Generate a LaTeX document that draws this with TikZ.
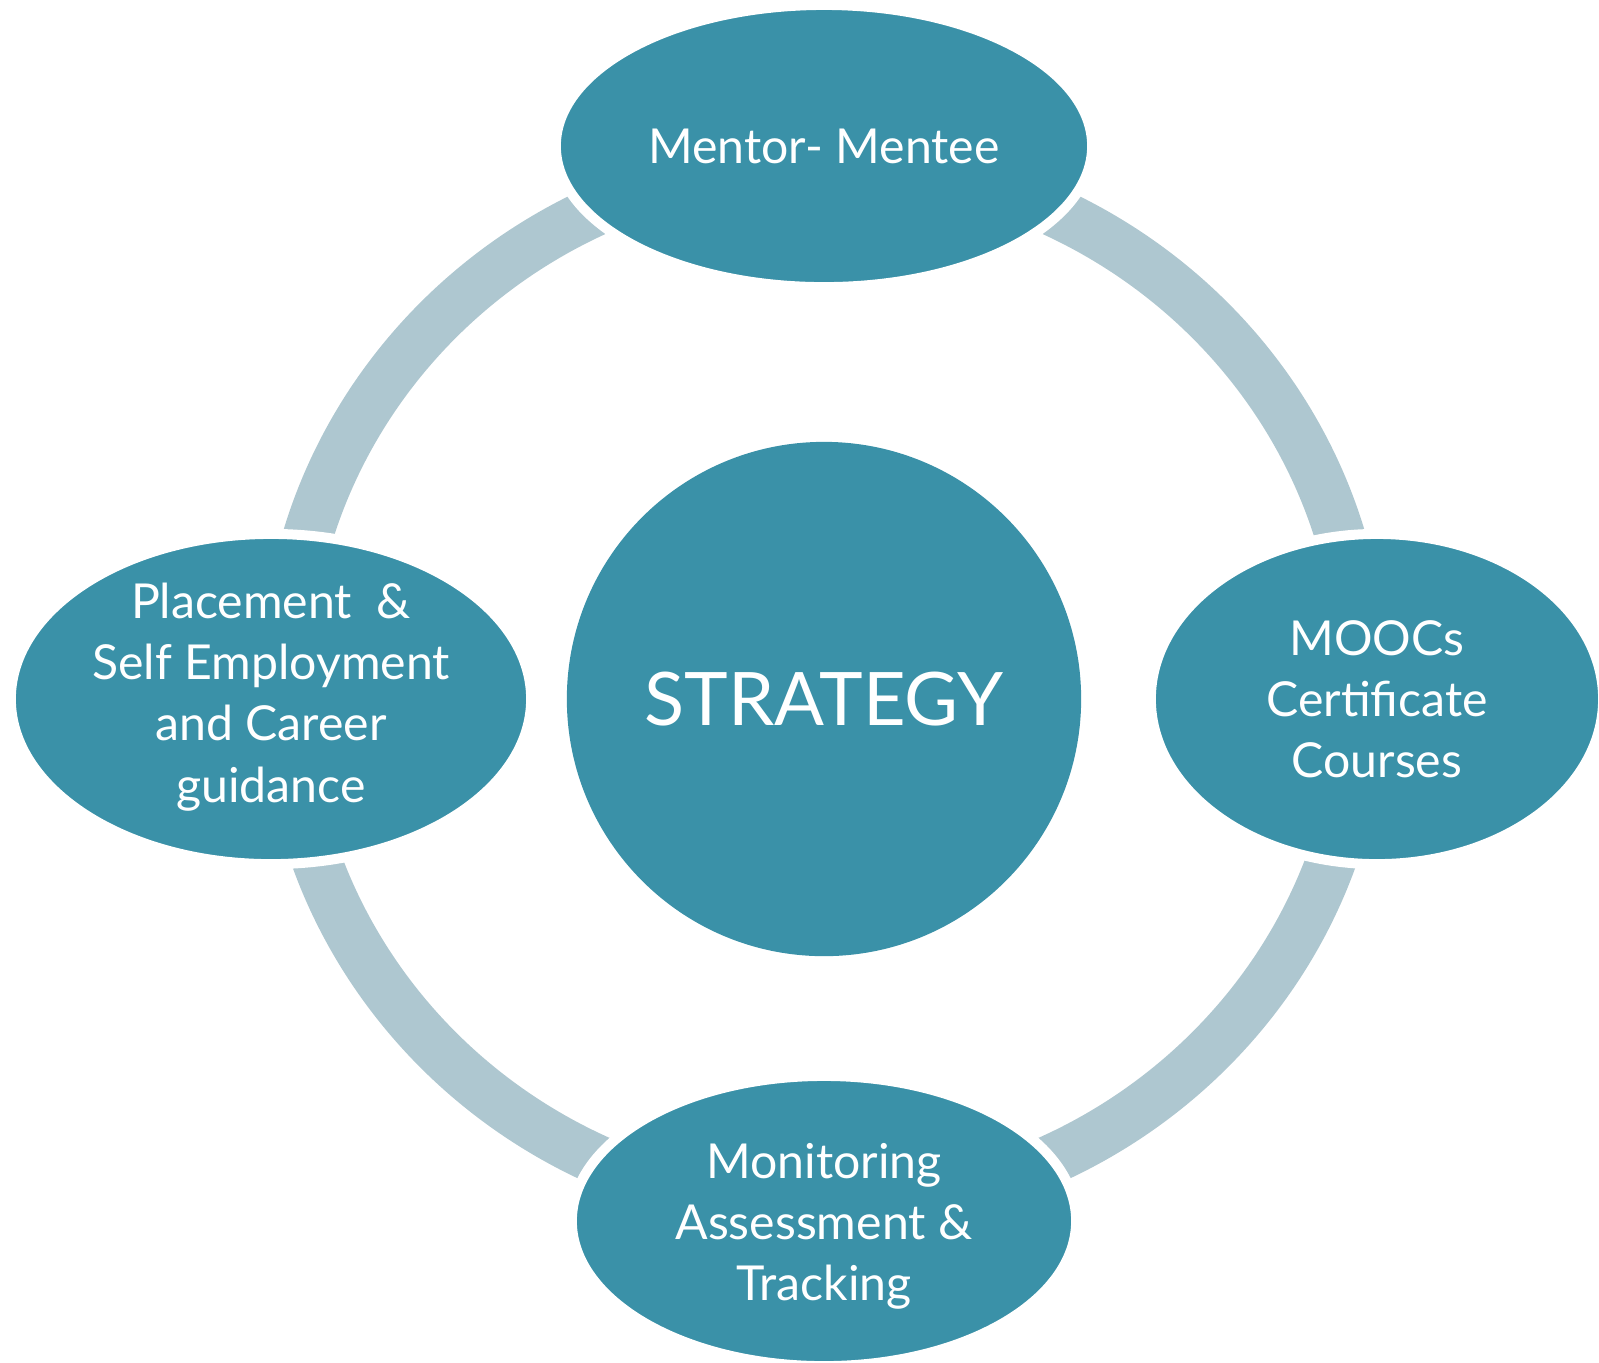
\documentclass[tikz,border=0pt]{standalone}
\usepackage{fontspec}
\setmainfont{Lato}
\usetikzlibrary{shapes.geometric}
\definecolor{tealfill}{RGB}{58,145,168}
\definecolor{ringblue}{RGB}{174,199,208}

\begin{document}
\begin{tikzpicture}[x=0.01cm,y=-0.01cm]
    \tikzstyle{blob}=[ellipse, fill=tealfill, draw=white, line width=0.1cm,
                            inner sep=0pt]
    \tikzstyle{lbl}=[text=white, align=center, font=\fontsize{13.7}{17.4}\selectfont]
    \useasboundingbox (0,0) rectangle (1599,1362);

    \coordinate (ringc) at (824,685);
    \draw[ringblue, line width=0.5cm] (ringc) ellipse [x radius=5.38cm, y radius=5.23cm];

    \node[blob, minimum width=5.36cm, minimum height=2.82cm,
          label={[lbl]center:Mentor- Mentee}] (mentor) at (824,146) {};
    \node[blob, minimum width=4.52cm, minimum height=3.30cm,
          label={[lbl]center:MOOCs\\Certificate\\Courses}] (moocs) at (1377,699) {};
    \node[blob, minimum width=5.04cm, minimum height=2.90cm,
          label={[lbl, yshift=-0.05cm]center:Monitoring\\Assessment \&\\Tracking}] (monitor) at (824,1221) {};
    \node[blob, minimum width=5.20cm, minimum height=3.30cm,
          label={[lbl, yshift=0.02cm]center:Placement \ \&\\Self Employment\\and Career\\guidance}] (place) at (271,699) {};

    \node[circle, fill=tealfill, inner sep=0pt, minimum size=5.14cm, text=white,
          font=\fontsize{21}{25}\selectfont] (strategy) at (824,699) {STRATEGY};
\end{tikzpicture}
\end{document}
